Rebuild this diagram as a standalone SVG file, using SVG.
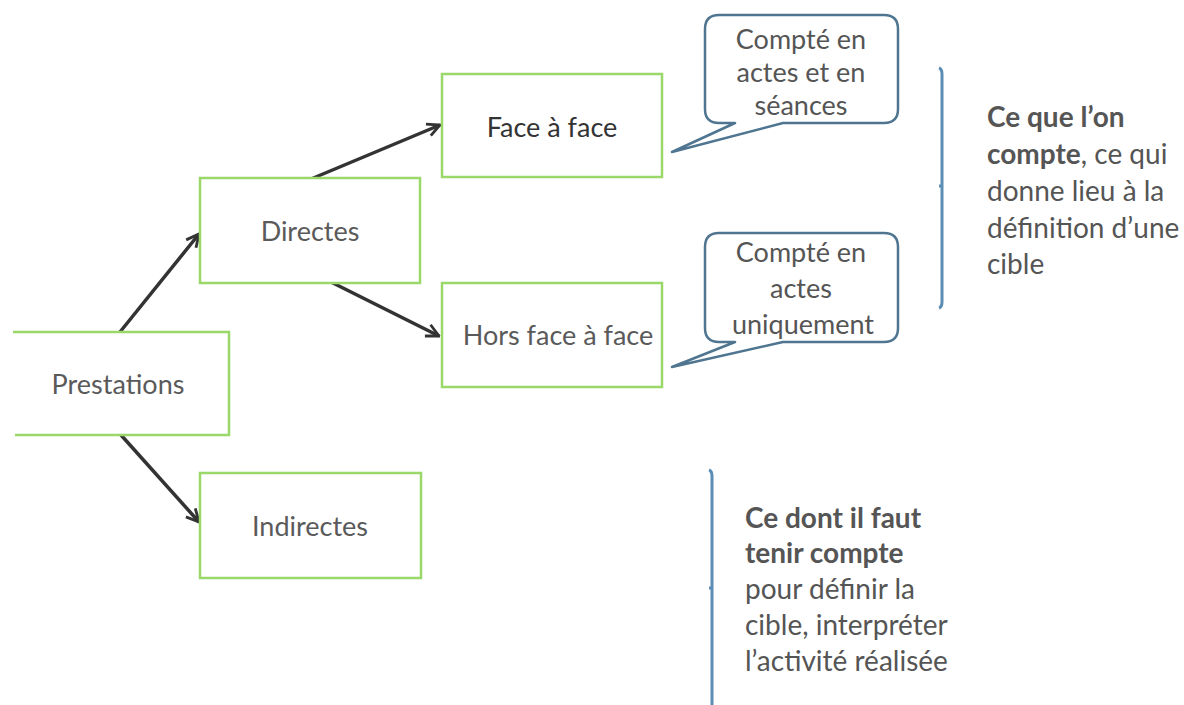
<svg xmlns="http://www.w3.org/2000/svg" width="1184" height="705" viewBox="0 0 1184 705">
<defs>
<style>
.box{fill:#fff;stroke:#9bd86a;stroke-width:2.5}
.lbl{font-family:Lato,"Liberation Sans",sans-serif;font-size:27px;fill:#5a5a5a;text-anchor:middle}
.call{fill:#fff;stroke:#4f7591;stroke-width:2.5;stroke-linejoin:round}
.ctext{font-family:Lato,"Liberation Sans",sans-serif;font-size:27px;fill:#555;text-anchor:middle}
.conn{stroke:#333;stroke-width:3.5;fill:none;marker-end:url(#ah)}
.brk{stroke:#5b8db5;stroke-width:3;fill:none}
.side{font-family:Lato,"Liberation Sans",sans-serif;font-size:28px;fill:#555}
.b{font-weight:bold}
</style>
<marker id="ah" viewBox="0 0 10 10" refX="9" refY="5" markerWidth="4.5" markerHeight="4.5" orient="auto" markerUnits="strokeWidth">
<path d="M1,1 L9,5 L1,9" fill="none" stroke="#333" stroke-width="1.8" stroke-linejoin="miter"/>
</marker>
</defs>
<rect width="1184" height="705" fill="#fff"/>

<g id="connectors">
<line class="conn" x1="120" y1="332" x2="199" y2="234"/>
<line class="conn" x1="121" y1="435" x2="199" y2="522"/>
<line class="conn" x1="311" y1="179" x2="440" y2="125"/>
<line class="conn" x1="331" y1="282" x2="439" y2="336"/>
</g>

<g id="prestations">
<path class="box" d="M13,332 H229 V435 H15" fill="#fff"/>
<text class="lbl" x="118" y="394">Prestations</text>
</g>
<g id="directes">
<rect class="box" x="200" y="178" width="220" height="105"/>
<text class="lbl" x="310" y="241">Directes</text>
</g>
<g id="indirectes">
<rect class="box" x="200" y="473" width="221" height="105"/>
<text class="lbl" x="310" y="536">Indirectes</text>
</g>
<g id="face">
<rect class="box" x="442" y="74" width="220" height="103"/>
<text class="lbl" x="552" y="137" style="fill:#333">Face à face</text>
</g>
<g id="hors">
<rect class="box" x="442" y="283" width="220" height="104"/>
<text class="lbl" x="558" y="345">Hors face à face</text>
</g>

<g id="callout1">
<path class="call" d="M719,15 H884 Q898,15 898,29 V109 Q898,123 884,123 H783 L672,152 L735,123 H719 Q705,123 705,109 V29 Q705,15 719,15 Z"/>
<text class="ctext" x="801" y="49">Compté en</text>
<text class="ctext" x="801" y="82">actes et en</text>
<text class="ctext" x="801" y="115">séances</text>
</g>
<g id="callout2">
<path class="call" d="M719,233 H884 Q898,233 898,247 V328 Q898,342 884,342 H783 L672,367 L735,342 H719 Q705,342 705,328 V247 Q705,233 719,233 Z"/>
<text class="ctext" x="801" y="262">Compté en</text>
<text class="ctext" x="801" y="298">actes</text>
<text class="ctext" x="803" y="334">uniquement</text>
</g>

<g id="bracket1">
<path class="brk" d="M939,68 Q942,69 942,74 V302 Q942,307 939,308"/>
<path class="brk" d="M942,186 H939"/>
<text class="side" x="987" y="127"><tspan class="b">Ce que l’on</tspan></text>
<text class="side" x="987" y="164"><tspan class="b">compte</tspan>, ce qui</text>
<text class="side" x="987" y="201">donne lieu à la</text>
<text class="side" x="987" y="238">définition d’une</text>
<text class="side" x="987" y="274">cible</text>
</g>
<g id="bracket2">
<path class="brk" d="M709,470 Q712,471 712,476 V705"/>
<path class="brk" d="M712,588 H709"/>
<text class="side" x="745" y="528"><tspan class="b">Ce dont il faut</tspan></text>
<text class="side" x="745" y="563"><tspan class="b">tenir compte</tspan></text>
<text class="side" x="745" y="599">pour définir la</text>
<text class="side" x="745" y="635">cible, interpréter</text>
<text class="side" x="745" y="671">l’activité réalisée</text>
</g>
</svg>
